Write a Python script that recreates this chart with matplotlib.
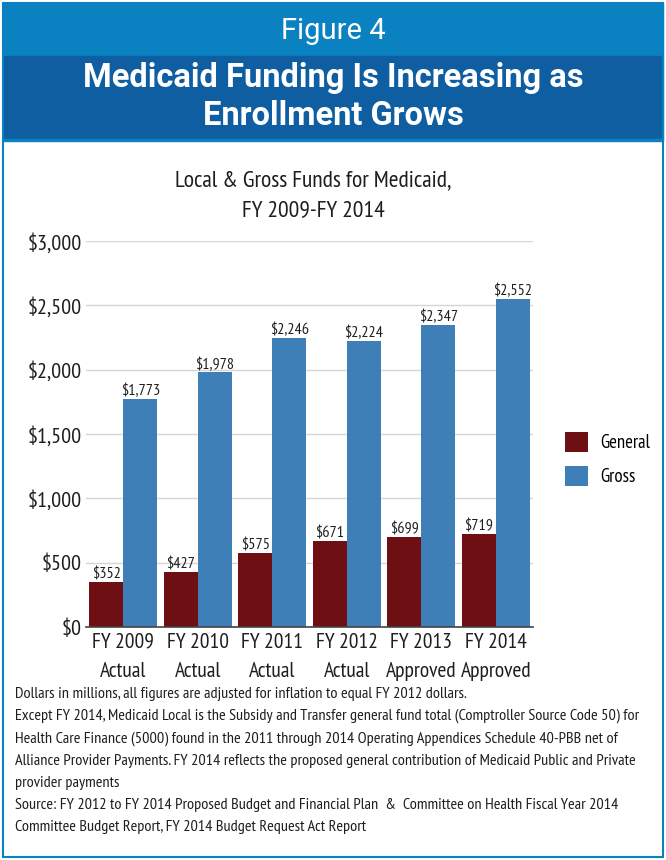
import numpy as np
import matplotlib
matplotlib.use('Agg')
import matplotlib.pyplot as plt
from matplotlib.patches import Rectangle

years = ['FY 2009\nActual', 'FY 2010\nActual', 'FY 2011\nActual', 'FY 2012\nActual',
         'FY 2013\nApproved', 'FY 2014\nApproved']
general = [352, 427, 575, 671, 699, 719]
gross = [1773, 1978, 2246, 2224, 2347, 2552]

BODY = ['PT Sans Narrow', 'DejaVu Sans']
HEAD = ['Roboto', 'DejaVu Sans']
plt.rcParams['font.family'] = BODY

c_gen = '#6E0F14'
c_gross = '#3D7FB6'
c_light = '#0A82C1'
c_dark = '#0F5EA1'
ink = '#1E1E1E'

W, H = 666, 860
fig = plt.figure(figsize=(W / 100, H / 100), dpi=100)

def fx(px):
    return px / W

def fy(py):
    return 1 - py / H

# header bands and frame
fig.add_artist(Rectangle((fx(3), fy(56)), fx(660), 53 / H, transform=fig.transFigure,
                         color=c_light, zorder=0))
fig.add_artist(Rectangle((fx(3), fy(139)), fx(660), 83 / H, transform=fig.transFigure,
                         color=c_dark, zorder=0))
fig.add_artist(Rectangle((fx(3), fy(141)), fx(660), 2 / H, transform=fig.transFigure,
                         color=c_light, zorder=0))
fig.add_artist(Rectangle((fx(3), fy(857)), fx(660), 854 / H, transform=fig.transFigure,
                         fill=False, edgecolor=c_light, lw=1.5, zorder=0))

fig.text(0.5, fy(31), 'Figure 4', ha='center', va='center', color='white',
         fontsize=21, family=HEAD)
fig.text(0.5, fy(78), 'Medicaid Funding Is Increasing as', ha='center', va='center',
         color='white', fontsize=23.5, family=HEAD, fontweight='bold')
fig.text(0.5, fy(116), 'Enrollment Grows', ha='center', va='center',
         color='white', fontsize=23.5, family=HEAD, fontweight='bold')

fig.text(fx(313), fy(181), 'Local & Gross Funds for Medicaid,', ha='center', va='center',
         fontsize=17, color=ink)
fig.text(fx(313), fy(211), 'FY 2009-FY 2014', ha='center', va='center',
         fontsize=17, color=ink)

ax = fig.add_axes([fx(86), fy(627), fx(533 - 86), (627 - 241) / H])
x = np.arange(len(years))
bw = 0.455
b1 = ax.bar(x - bw / 2, general, bw, color=c_gen, label='General', zorder=2)
b2 = ax.bar(x + bw / 2, gross, bw, color=c_gross, label='Gross', zorder=2)
for rect, v in list(zip(b1, general)) + list(zip(b2, gross)):
    ax.text(rect.get_x() + rect.get_width() / 2, v + 5, '${:,}'.format(v),
            ha='center', va='bottom', fontsize=11.5, color=ink)

ax.set_xlim(-0.5, 5.5)
ax.set_ylim(0, 3000)
ax.set_yticks(np.arange(0, 3001, 500))
ax.set_yticklabels(['${:,}'.format(v) for v in range(0, 3001, 500)], fontsize=16, color=ink)
ax.set_xticks(x)
ax.set_xticklabels(years, fontsize=15.5, color=ink, linespacing=1.7)
ax.tick_params(axis='y', length=0, pad=3)
ax.tick_params(axis='x', length=0, pad=4)
ax.grid(axis='y', color='#D5D5D5', lw=1, zorder=0)
for s in ['top', 'right', 'left']:
    ax.spines[s].set_visible(False)
ax.spines['bottom'].set_color('#444444')
ax.spines['bottom'].set_linewidth(1.2)

leg = fig.legend(handles=[b1, b2], loc='center left', bbox_to_anchor=(fx(565), fy(459)),
                 frameon=False, fontsize=13.5, handlelength=1.2, handleheight=1.25,
                 labelspacing=0.75, handletextpad=0.7, borderpad=0, borderaxespad=0)

notes = ['Dollars in millions, all figures are adjusted for inflation to equal FY 2012 dollars.',
         'Except FY 2014, Medicaid Local is the Subsidy and Transfer general fund total (Comptroller Source Code 50) for',
         'Health Care Finance (5000) found in the 2011 through 2014 Operating Appendices Schedule 40-PBB net of',
         'Alliance Provider Payments. FY 2014 reflects the proposed general contribution of Medicaid Public and Private',
         'provider payments',
         'Source: FY 2012 to FY 2014 Proposed Budget and Financial Plan  &  Committee on Health Fiscal Year 2014',
         'Committee Budget Report, FY 2014 Budget Request Act Report']
for i, line in enumerate(notes):
    fig.text(fx(15), fy(694 + i * 22.2), line, ha='left', va='center', fontsize=11.7, color=ink)

fig.savefig('out.png', dpi=100)
